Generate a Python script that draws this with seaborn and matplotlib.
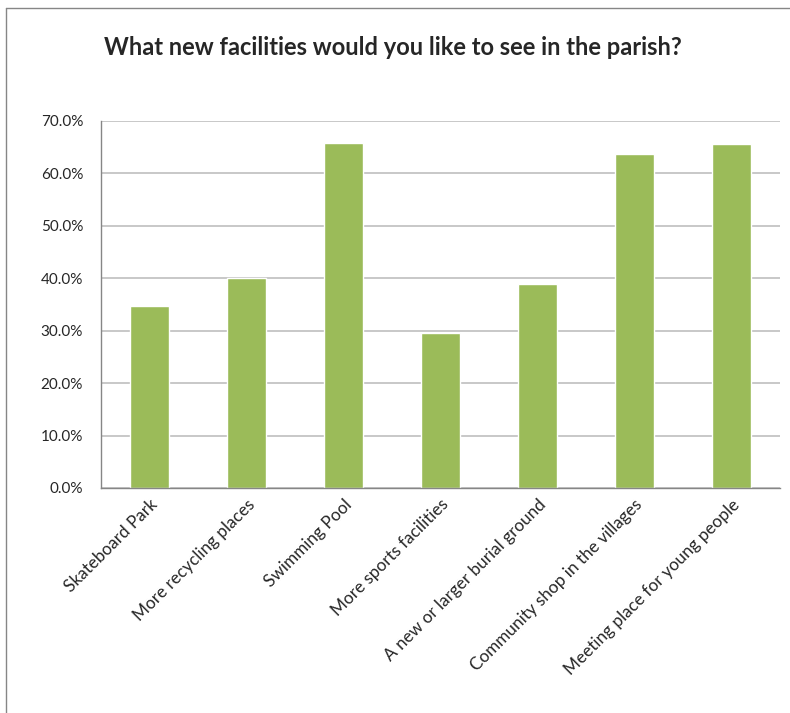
import matplotlib
matplotlib.use("Agg")
import matplotlib.pyplot as plt
import seaborn as sns
import numpy as np
import pandas as pd
from matplotlib.ticker import PercentFormatter, FixedLocator
from matplotlib.lines import Line2D

# survey answers, share of respondents (%)
facilities = ['Skateboard Park', 'More recycling places', 'Swimming Pool',
              'More sports facilities', 'A new or larger burial ground',
              'Community shop in the villages', 'Meeting place for young people']
share = [34.7, 40.0, 65.8, 29.6, 38.9, 63.7, 65.7]

df = pd.DataFrame({'facility': facilities, 'share': share})

sns.set_style("white")
plt.rcParams['font.family'] = ['Lato', 'DejaVu Sans']

fig = plt.figure(figsize=(7.9, 7.13), dpi=100)
ax = fig.add_axes([0.128, 0.3156, 0.859, 0.5147])

sns.barplot(data=df, x='facility', y='share', color='#9BBB59', width=0.4,
            saturation=1, ax=ax)

ax.set_ylim(0, 70)
ax.set_xlim(-0.5, len(facilities) - 0.5)
ax.set_yticks(np.arange(0, 71, 10))
ax.yaxis.set_major_formatter(PercentFormatter(xmax=100, decimals=1))
ax.yaxis.grid(True, color='#BFBFBF', linewidth=1.2)
ax.set_axisbelow(True)

# category ticks on boundaries, labels centred
ax.xaxis.set_minor_locator(FixedLocator(np.arange(-0.5, len(facilities), 1)))
ax.tick_params(axis='x', which='major', length=0, pad=6)
ax.tick_params(axis='x', which='minor', length=4.5, color='#868686', width=1)
ax.tick_params(axis='y', length=5, color='#868686', width=1, pad=8)
ax.set_xticks(range(len(facilities)))
ax.set_xticklabels(facilities, rotation=45, ha='right', rotation_mode='anchor',
                   fontsize=12.3)
for lbl in ax.get_yticklabels():
    lbl.set_fontsize(11)

for s in ['top', 'right']:
    ax.spines[s].set_visible(False)
for s in ['left', 'bottom']:
    ax.spines[s].set_color('#868686')
    ax.spines[s].set_linewidth(1)

ax.set_xlabel('')
ax.set_ylabel('')

fig.text(0.497, 0.934, 'What new facilities would you like to see in the parish?',
         ha='center', va='center', fontsize=17, fontweight='bold')

# chart-area border (left and top edges visible)
fig.add_artist(Line2D([5.5 / 790, 5.5 / 790], [0, 1 - 8 / 713], color='#868686',
                      linewidth=1, transform=fig.transFigure))
fig.add_artist(Line2D([5.5 / 790, 1], [1 - 8 / 713, 1 - 8 / 713], color='#868686',
                      linewidth=1, transform=fig.transFigure))

fig.savefig('out.png', dpi=100)
